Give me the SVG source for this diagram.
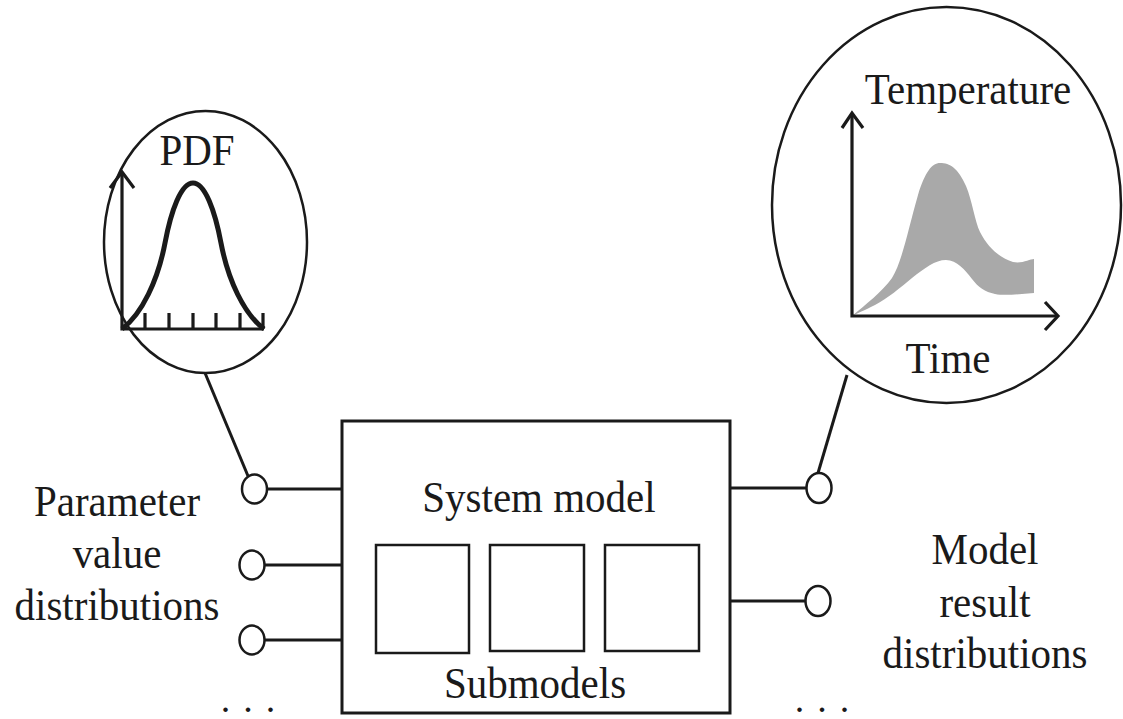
<svg xmlns="http://www.w3.org/2000/svg" width="1123" height="719" viewBox="0 0 1123 719">
<style>
text{font-family:"Liberation Serif","Times New Roman",serif;font-size:41px;fill:#1a1a1a;text-anchor:middle}
text.dots{font-size:28px;font-weight:bold;text-anchor:start;letter-spacing:4.25px}
.ln{stroke:#1a1a1a;stroke-width:3;fill:none}
.port{stroke:#1a1a1a;stroke-width:2.5;fill:#fff}
.bub{stroke:#1a1a1a;stroke-width:2.5;fill:#fff}
.ax{stroke:#1a1a1a;stroke-width:3.2;fill:none;stroke-linejoin:miter}
.box{stroke:#1a1a1a;stroke-width:3;fill:#fff}
.sub{stroke:#1a1a1a;stroke-width:2.5;fill:#fff}
</style>
<rect width="1123" height="719" fill="#fff"/>
<g id="connectors">
<line class="ln" x1="205" y1="373" x2="248" y2="476"/>
<line class="ln" x1="847" y1="375" x2="818" y2="473"/>
<line class="ln" x1="267" y1="489" x2="342" y2="489"/>
<line class="ln" x1="264" y1="565" x2="342" y2="565"/>
<line class="ln" x1="264" y1="640" x2="342" y2="640"/>
<line class="ln" x1="730" y1="488" x2="806" y2="488"/>
<line class="ln" x1="730" y1="601" x2="806" y2="601"/>
</g>
<g id="pdf-bubble">
<ellipse class="bub" cx="205.5" cy="242" rx="101.5" ry="131"/>
<text transform="translate(197 165) scale(1 1.1)">PDF</text>
<polyline class="ax" points="110,188 122,172 134,188"/>
<polyline class="ax" points="122,172 122,329 264,329"/>
<path class="ax" d="M145,313V329M169,313V329M193,313V329M216,313V329M240,313V329M263,313V329"/>
<path d="M122,329 C142,314 158,280 165,243 C171,211 181,183 193,183 C205,183 215,211 221,243 C228,280 244,314 264,329" fill="none" stroke="#1a1a1a" stroke-width="5"/>
</g>
<g id="temperature-bubble">
<ellipse class="bub" cx="946.5" cy="205" rx="174.5" ry="198"/>
<text transform="translate(968 104) scale(1 1.1)">Temperature</text>
<path d="M852,316 C865,305 882,292 892,278 C902,262 908,230 918,195 C925,172 932,163 940,163 C950,163 958,168 966,186 C972,200 975,222 980,232 C988,248 1000,258 1013,262 C1022,264 1030,259 1034,259 L1034,293 C1020,294 1005,296 995,294 C985,292 978,287 972,279 C965,270 957,260 946,260 C935,260 925,268 912,278 C900,288 888,298 875,305 C865,310 858,313 852,316 Z" fill="#a9a9a9"/>
<polyline class="ax" points="842,128 852,113 863,128"/>
<polyline class="ax" points="852,113 852,316 1058,316"/>
<polyline class="ax" points="1045,302 1058,316 1045,330"/>
<text transform="translate(948 373) scale(1 1.1)">Time</text>
</g>
<g id="system-model">
<rect class="box" x="342" y="421" width="388" height="292"/>
<text transform="translate(539 512) scale(1 1.1)">System model</text>
<rect class="sub" x="376" y="545" width="93" height="108"/>
<rect class="sub" x="490" y="545" width="94" height="106"/>
<rect class="sub" x="605" y="545" width="94" height="106"/>
<text transform="translate(535 698) scale(1 1.1)">Submodels</text>
</g>
<g id="input-ports">
<ellipse class="port" cx="254.5" cy="489" rx="12.5" ry="14.5"/>
<ellipse class="port" cx="252" cy="565" rx="12.5" ry="14.5"/>
<ellipse class="port" cx="252" cy="640" rx="12.5" ry="14.5"/>
</g>
<g id="output-ports">
<ellipse class="port" cx="819" cy="488" rx="12.5" ry="15"/>
<ellipse class="port" cx="818" cy="601" rx="12.5" ry="15"/>
</g>
<g id="input-label">
<text transform="translate(117 516) scale(1 1.1)">Parameter</text>
<text transform="translate(117 568) scale(1 1.1)">value</text>
<text transform="translate(117 620) scale(1 1.1)">distributions</text>
<text class="dots" x="222" y="712">. . .</text>
</g>
<g id="output-label">
<text transform="translate(985 564) scale(1 1.1)">Model</text>
<text transform="translate(985 617) scale(1 1.1)">result</text>
<text transform="translate(985 668) scale(1 1.1)">distributions</text>
<text class="dots" x="796" y="712">. . .</text>
</g>
</svg>
